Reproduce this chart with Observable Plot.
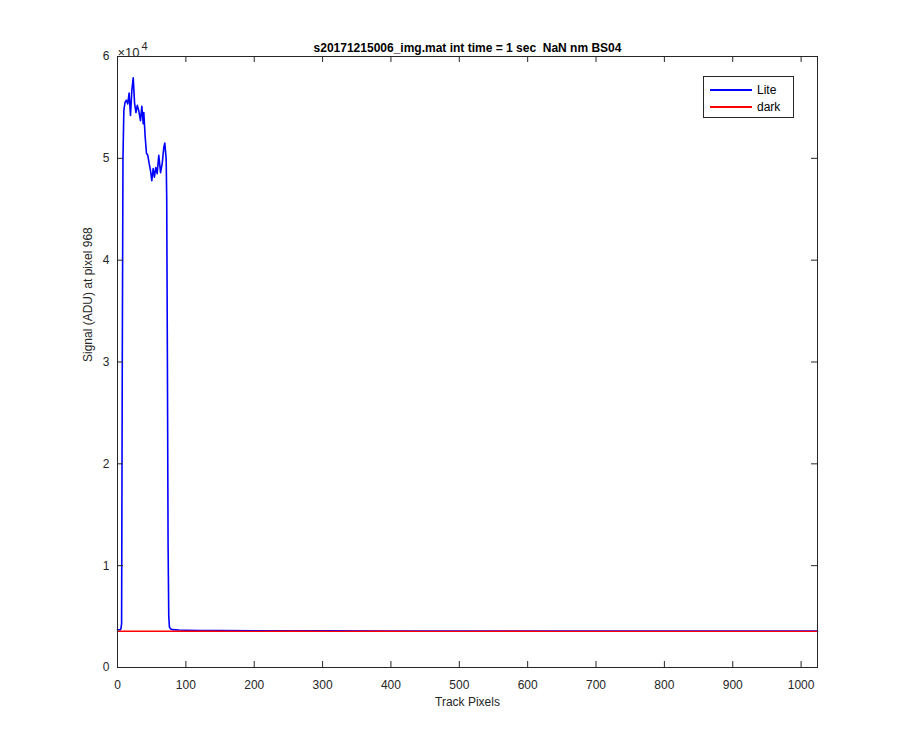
<!DOCTYPE html>
<html><head><meta charset="utf-8">
<script src="https://cdn.jsdelivr.net/npm/d3@7"></script>
<script src="https://cdn.jsdelivr.net/npm/@observablehq/plot@0.6"></script>
<style>
body{margin:0;background:#fff;}
#wrap{position:relative;width:900px;height:750px;}
#legend{position:absolute;left:703px;top:76px;width:91px;height:42px;border:1px solid #262626;background:#fff;font:12px "Liberation Sans",Arial,sans-serif;color:#000;box-sizing:border-box;}
.item{position:absolute;left:6px;height:14px;display:flex;align-items:center;}
.item span.l{display:inline-block;width:42px;height:0;border-top:2px solid;margin-right:5px;}
</style>
</head><body>
<div id="wrap"></div>
<script>
const titleText = "s20171215006_img.mat int time = 1 sec  NaN nm BS04";
const xLabel = "Track Pixels";
const yLabel = "Signal (ADU) at pixel 968";
const seriesNames = ["Lite", "dark"];
const seriesColors = ["#0000ff", "#ff0000"];
const xTicks = [0,100,200,300,400,500,600,700,800,900,1000];
const yTicks = [0,10000,20000,30000,40000,50000,60000];
const yTickLabels = ["0","1","2","3","4","5","6"];

const liteX = [0,2,4,5,6,7,8,9.3,11,13,15,17,19,21,23,25,27,29,31,33.6,35.6,37.6,38.5,40.5,42.4,44.3,46.3,48.3,50.2,52.2,54,56,58,60.4,63,65.4,67.8,69.2,71.2,72,73,74,75,76,78,80,90,100,120,150,200,300,400,500,600,700,800,900,1024];
const liteY = [3700,3700,3720,3800,4300,30000,50000,54700,55500,55700,55350,56400,54200,56700,57900,55400,54500,55200,54700,53700,55100,53400,54500,52100,50500,50300,49500,48800,47800,49000,48150,49100,48500,50300,48600,49500,51100,51500,49950,46000,30000,12000,5000,3950,3780,3720,3680,3660,3640,3620,3610,3600,3590,3590,3580,3580,3575,3575,3570];
const darkX = [0,64,128,192,256,320,384,448,512,576,640,704,768,832,896,960,1024];
const darkY = [3560,3555,3560,3550,3555,3550,3555,3550,3550,3555,3550,3550,3545,3550,3550,3545,3550];

const lite = liteX.map((x,i)=>({x, y: liteY[i], s: seriesNames[0]}));
const dark = darkX.map((x,i)=>({x, y: darkY[i], s: seriesNames[1]}));

const axisColor = "#262626";
const W = 900, H = 750, mL = 117, mR = 83, mT = 56, mB = 83;
const xLen = 1024 * 6 / (W - mL - mR);
const yLen = 60000 * 6 / (H - mT - mB);

const chart = Plot.plot({
  width: W, height: H,
  marginLeft: mL, marginRight: mR, marginTop: mT, marginBottom: mB,
  style: {fontFamily: "'Liberation Sans', Arial, sans-serif", fontSize: "12px", color: axisColor, background: "#fff"},
  x: {domain: [0, 1024]},
  y: {domain: [0, 60000]},
  marks: [
    Plot.line(lite, {x: "x", y: "y", stroke: seriesColors[0], strokeWidth: 1.6}),
    Plot.line(dark, {x: "x", y: "y", stroke: seriesColors[1], strokeWidth: 1.4}),
    Plot.frame({stroke: axisColor, strokeWidth: 1}),
    Plot.ruleX(xTicks, {x: d => d, y1: 0, y2: yLen, stroke: axisColor}),
    Plot.ruleX(xTicks, {x: d => d, y1: 60000, y2: 60000 - yLen, stroke: axisColor}),
    Plot.ruleY(yTicks, {y: d => d, x1: 0, x2: xLen, stroke: axisColor}),
    Plot.ruleY(yTicks, {y: d => d, x1: 1024, x2: 1024 - xLen, stroke: axisColor}),
    Plot.axisX(xTicks, {tickSize: 0, tickPadding: 13, anchor: "bottom", label: null, tickFormat: d3.format("d"), fill: axisColor, fontSize: 12}),
    Plot.axisY(yTicks, {tickSize: 0, tickPadding: 8, anchor: "left", label: null, tickFormat: d => yTickLabels[yTicks.indexOf(d)], fill: axisColor, fontSize: 12}),
    Plot.text([titleText], {frameAnchor: "top", dy: -13, text: d => d, fontWeight: "bold", fontSize: 12, fill: "#000"}),
    Plot.text([xLabel], {frameAnchor: "bottom", dy: 38, text: d => d, fontSize: 12, fill: axisColor}),
    Plot.text([yLabel], {frameAnchor: "left", dx: -29, rotate: -90, text: d => d, fontSize: 12, fill: axisColor}),
    Plot.text(["×10"], {frameAnchor: "top-left", dy: -9, dx: 0, textAnchor: "start", text: d => d, fontSize: 13, fill: axisColor}),
    Plot.text(["4"], {frameAnchor: "top-left", dy: -14, dx: 24, textAnchor: "start", text: d => d, fontSize: 11, fill: axisColor})
  ]
});
const wrap = document.getElementById("wrap");
wrap.appendChild(chart);
const leg = document.createElement("div");
leg.id = "legend";
seriesNames.forEach((n, i) => {
  const it = document.createElement("div");
  it.className = "item";
  it.style.top = (6 + i * 17) + "px";
  it.innerHTML = `<span class="l" style="border-color:${seriesColors[i]}"></span>${n}`;
  leg.appendChild(it);
});
wrap.appendChild(leg);
</script>
</body></html>
